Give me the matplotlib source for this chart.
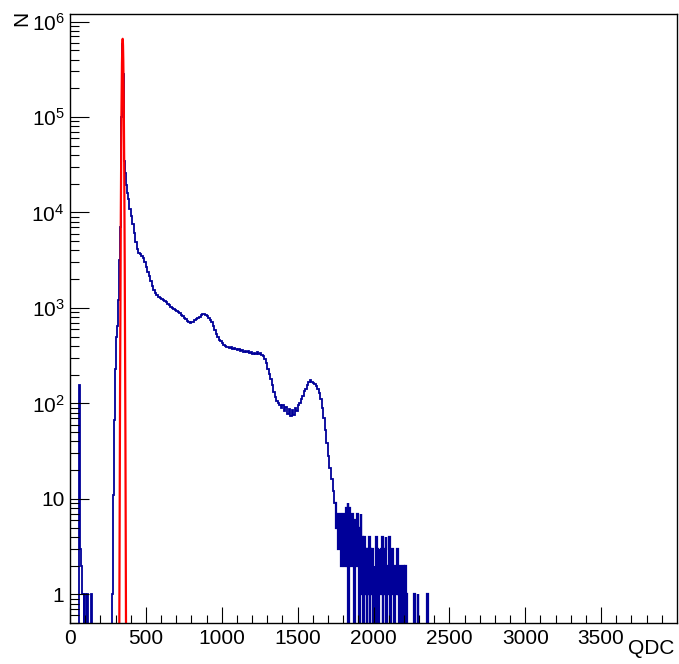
"""QDC spectrum with Gaussian pedestal fit (log scale)."""

import numpy as np
import matplotlib
matplotlib.use("Agg")
import matplotlib.pyplot as plt
from matplotlib.ticker import FixedLocator, FixedFormatter, LogLocator, NullFormatter

# --- data ------------------------------------------------------------------
# 0..320 QDC, 5 QDC bins
low_counts = [
    0, 0, 0, 0, 0, 0, 0, 0, 0, 0, 0, 0,
    155, 3, 2, 2, 1, 1, 0, 1, 1, 0, 0, 1,
    0, 0, 0, 0, 1, 0, 0, 0, 0, 0,
    0, 0, 0, 0, 0, 0, 0, 0, 0, 0, 0, 0, 0, 0, 0, 0, 0, 0, 0, 0, 0, 0,
    1, 11, 67, 230, 400, 500, 650, 1200,
]
# 320..380 QDC, 2 QDC bins (pedestal peak)
peak_counts = [
    2000, 2400, 2700, 3200, 4000, 5000, 7000, 15000, 40000, 100000,
    220000, 400000, 580000, 630000, 600000, 450000, 280000, 150000, 70000, 35000,
    28000, 27000, 26000, 25000, 23000, 21000, 19500, 18000, 17000, 16000,
]
# 380..1750 QDC, 10 QDC bins
mid_counts = [
    14000, 11000,
    9200, 7600, 6100, 4900, 4100, 3800, 3650, 3500, 3300, 3000,
    2700, 2400, 2150, 1900, 1700, 1530, 1420, 1360, 1310, 1270,
    1240, 1210, 1180, 1150, 1110, 1070, 1030, 1000, 975, 950,
    925, 900, 880, 850, 820, 790, 760, 735, 710, 700,
    705, 720, 740, 760, 785, 810, 835, 855, 860, 850,
    825, 790, 750, 705, 650, 590, 535, 495, 465, 445,
    425, 410, 400, 392, 388, 380, 386, 374, 381, 369,
    366, 372, 356, 362, 347, 357, 342, 352, 336, 346,
    331, 341, 330, 346, 326, 338, 325, 310, 290, 262,
    228, 205, 180, 155, 132, 118, 106, 100, 95, 90,
    96, 84, 92, 78, 88, 74, 86, 76, 90, 84,
    97, 100, 112, 120, 134, 142, 156, 168, 174, 166,
    162, 160, 152, 142, 128, 110, 90, 70, 52, 38,
    28, 21, 16, 12, 9,
]
# 1750..2400 QDC, 5 QDC bins
tail_counts = [
    8, 5, 7, 3, 6, 4, 7, 2, 6, 3,
    7, 2, 6, 3, 8, 2, 9, 0, 8, 3,
    6, 2, 7, 3, 0, 4, 6, 2, 7, 2,
    5, 0, 3, 7, 1, 4, 0, 2, 4, 1,
    3, 0, 3, 1, 4, 0, 3, 1, 3, 0,
    2, 1, 0, 4, 1, 3, 0, 2, 3, 1,
    3, 4, 0, 2, 1, 3, 4, 0, 2, 1,
    3, 4, 0, 2, 1, 3, 1, 0, 2, 1,
    1, 3, 1, 2, 0, 2, 1, 2, 0, 2,
    1, 0, 2, 1, 0, 0, 0, 0, 0, 0,
    0, 0, 0, 0, 1, 0, 0, 0, 1, 0,
    0, 0, 0, 0, 0, 0, 0, 0, 0, 0,
    0, 1, 0, 0, 0, 0, 0, 0, 0, 0,
]

# gaussian fit of the pedestal
fit_amp = 6.6e5
fit_mean = 347.0
fit_sigma = 4.15
fit_range = (318.0, 376.0)

x_ticks = [0, 500, 1000, 1500, 2000, 2500, 3000, 3500]
y_ticks = [1, 10, 100, 1000, 1e4, 1e5, 1e6]
y_labels = ["1", "10", "$10^{2}$", "$10^{3}$", "$10^{4}$", "$10^{5}$", "$10^{6}$"]

# --- style ---------------------------------------------------------------
plt.rcParams["font.family"] = ["Liberation Sans", "DejaVu Sans"]
plt.rcParams["mathtext.fontset"] = "custom"
plt.rcParams["mathtext.rm"] = "Liberation Sans"
plt.rcParams["mathtext.it"] = "Liberation Sans:italic"
plt.rcParams["mathtext.bf"] = "Liberation Sans:bold"

W, H = 679, 664
fig = plt.figure(figsize=(W / 100, H / 100), dpi=100)
ax = fig.add_axes([70 / W, 1 - 623 / H, (677 - 70) / W, (623 - 14) / H])

edges = np.concatenate([
    np.arange(0, 321, 5),
    np.arange(320, 381, 2)[1:],
    np.arange(380, 1751, 10)[1:],
])
counts = np.array(low_counts + peak_counts + mid_counts, dtype=float)
shown = np.where(counts > 0, counts, 1e-2)
ax.stairs(shown, edges, baseline=None, color="#000099", lw=1.3)

# noisy tail, slightly heavier stroke so the dense spikes merge like the original
tail_edges = np.arange(1745, 2401, 5)
tail = np.array([mid_counts[-1]] + tail_counts, dtype=float)
ax.stairs(np.where(tail > 0, tail, 1e-2), tail_edges, baseline=None, color="#000099", lw=1.6)

xf = np.linspace(fit_range[0], fit_range[1], 600)
yf = fit_amp * np.exp(-0.5 * ((xf - fit_mean) / fit_sigma) ** 2)
ax.plot(xf, np.maximum(yf, 1e-3), color="#ff0000", lw=1.6)

ax.set_yscale("log")
ax.set_xlim(0, 4000)
ax.set_ylim(0.5, 1.2e6)

ax.xaxis.set_major_locator(FixedLocator(x_ticks))
ax.xaxis.set_minor_locator(FixedLocator([v for v in range(100, 4000, 100) if v % 500]))
ax.yaxis.set_major_locator(FixedLocator(y_ticks))
ax.yaxis.set_major_formatter(FixedFormatter(y_labels))
ax.yaxis.set_minor_locator(LogLocator(base=10, subs=np.arange(2, 10), numticks=20))
ax.yaxis.set_minor_formatter(NullFormatter())

ax.tick_params(axis="both", which="both", direction="in", top=False, right=False,
               labelsize=15, width=0.8, color="black")
ax.tick_params(axis="x", which="major", length=11.5, pad=4)
ax.tick_params(axis="x", which="minor", length=6)
ax.tick_params(axis="y", which="major", length=13.5, pad=4)
ax.tick_params(axis="y", which="minor", length=6.5)
for sp in ax.spines.values():
    sp.set_linewidth(1.0)
    sp.set_color("black")

fig.text(674 / W, 1 - 639 / H, "QDC", ha="right", va="top", fontsize=15)
fig.text(21.5 / W, 1 - 11 / H, "N", ha="center", va="top", rotation=90, fontsize=15)

fig.savefig("out.png", dpi=100)
plt.close(fig)
